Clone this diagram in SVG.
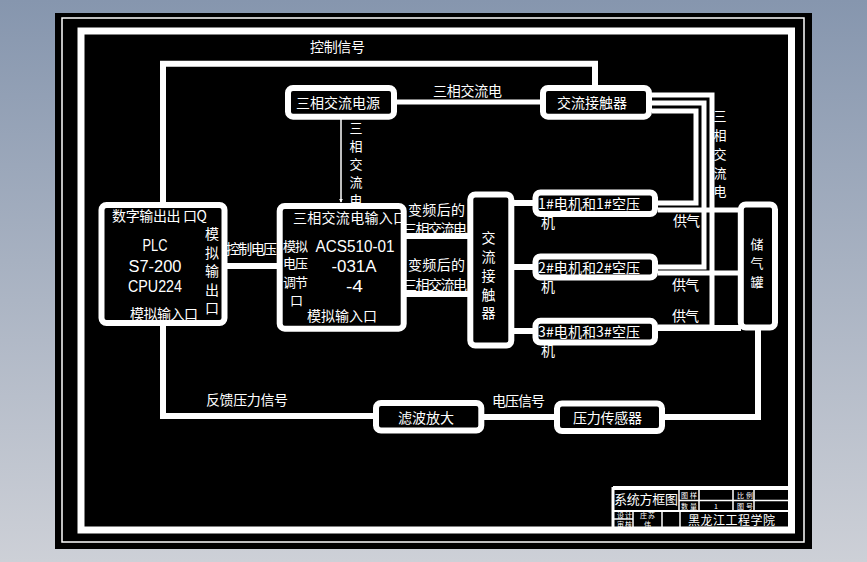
<svg xmlns="http://www.w3.org/2000/svg" width="867" height="562" viewBox="0 0 867 562">
<defs>
<linearGradient id="bg" x1="0" y1="0" x2="0" y2="1">
<stop offset="0" stop-color="#8696ae"/>
<stop offset="1" stop-color="#cdd0d7"/>
</linearGradient>
<marker id="arr" viewBox="0 0 6 6" refX="5" refY="3" markerWidth="4" markerHeight="4" orient="auto" markerUnits="userSpaceOnUse">
<path d="M0,0 L6,3 L0,6 Z" fill="#fff"/>
</marker>
<style>
.box{fill:#000;stroke:#fff;stroke-width:6}
.ln{fill:none;stroke:#fff;stroke-width:6}
.ln5{fill:none;stroke:#fff;stroke-width:5}
.thin{fill:none;stroke:#fff;stroke-width:1.5}
.tb{fill:none;stroke:#fff}
.t{font-family:"Noto Sans CJK SC","Liberation Sans",sans-serif;font-size:14px;fill:#fff;dominant-baseline:central}
.v{font-size:13px}
.m{text-anchor:middle}
.lat{font-family:"Liberation Sans","Noto Sans CJK SC",sans-serif;font-size:16px}
.s{font-size:7px}
</style>
</defs>
<rect width="867" height="562" fill="url(#bg)"/>
<rect x="55" y="13" width="757" height="536" fill="#000"/>
<rect x="62" y="18" width="742" height="524" fill="none" stroke="#fff" stroke-width="1.5"/>
<rect x="81" y="31" width="710.5" height="499" fill="none" stroke="#fff" stroke-width="7"/>

<g id="connectors">
<path class="ln" d="M163,205 V63.7 H595 V85"/>
<path class="ln" d="M163,323 V416 H376"/>
<path class="ln" d="M484,417 H557"/>
<path class="ln" d="M664,417 H758 V330"/>
<path class="ln5" d="M397,102 H543"/>
<path class="thin" d="M341,119 V202" marker-end="url(#arr)"/>
<path class="ln" d="M227,266 H279"/>
<path class="ln" d="M404,236 H470"/>
<path class="ln" d="M404,294 H470"/>
<path class="ln" d="M514,203 H535"/>
<path class="ln" d="M514,267 H535"/>
<path class="ln" d="M514,331 H535"/>
<path class="ln5" d="M652,111 H696 V203 H658"/>
<path class="ln5" d="M652,103 H704 V267 H658"/>
<path class="ln5" d="M652,95 H712 V327 H658"/>
<path class="ln5" d="M658,210 H741"/>
<path class="ln5" d="M658,273 H741"/>
<path class="ln" d="M658,328 H741"/>
</g>

<g id="labels">
<text class="t" x="310" y="46" textLength="55">控制信号</text>
<text class="t" x="433" y="90" textLength="69">三相交流电</text>
<text class="t v m" x="356" y="127">三</text>
<text class="t v m" x="356" y="145">相</text>
<text class="t v m" x="356" y="163">交</text>
<text class="t v m" x="356" y="181">流</text>
<text class="t v m" x="356" y="199">电</text>
<text class="t v m" x="720" y="115">三</text>
<text class="t v m" x="720" y="134">相</text>
<text class="t v m" x="720" y="153">交</text>
<text class="t v m" x="720" y="172">流</text>
<text class="t v m" x="720" y="190.5">电</text>
<text class="t" x="226" y="248" textLength="51">控制电压</text>
<text class="t" x="408" y="209" textLength="57">变频后的</text>
<text class="t" x="403" y="227.5" textLength="64">三相交流电</text>
<text class="t" x="408" y="263.5" textLength="57">变频后的</text>
<text class="t" x="403" y="283.5" textLength="64">三相交流电</text>
<text class="t" x="673" y="219.5" textLength="27">供气</text>
<text class="t" x="672" y="283.5" textLength="27">供气</text>
<text class="t" x="672" y="315" textLength="27">供气</text>
<text class="t" x="206" y="398.5" textLength="82">反馈压力信号</text>
<text class="t" x="492" y="400" textLength="53">电压信号</text>
</g>

<g id="power">
<rect class="box" x="288" y="88" width="106" height="28.7" rx="5"/>
<text class="t" x="296" y="102.3" textLength="84">三相交流电源</text>
</g>
<g id="contactor-top">
<rect class="box" x="543" y="88" width="106" height="28.7" rx="5"/>
<text class="t" x="557" y="102.3" textLength="70">交流接触器</text>
</g>
<g id="plc">
<rect class="box" x="101.5" y="205" width="123" height="118" rx="5"/>
<text class="t" x="112" y="215" textLength="95">数字输出出 口Q</text>
<text class="t lat m" x="155" y="245" textLength="25" lengthAdjust="spacingAndGlyphs">PLC</text>
<text class="t lat m" x="155" y="266.5" textLength="53" lengthAdjust="spacingAndGlyphs">S7-200</text>
<text class="t lat m" x="155" y="286.5" textLength="54" lengthAdjust="spacingAndGlyphs">CPU224</text>
<text class="t" x="130" y="313" textLength="68">模拟输入口</text>
<text class="t m" x="212" y="233">模</text>
<text class="t m" x="212" y="251.5">拟</text>
<text class="t m" x="212" y="270">输</text>
<text class="t m" x="212" y="288.5">出</text>
<text class="t m" x="212" y="307">口</text>
</g>
<g id="acs">
<rect class="box" x="279.7" y="206" width="124" height="122.7" rx="5"/>
<text class="t" x="293" y="216.7" textLength="114">三相交流电输入口</text>
<text class="t lat m" x="355" y="246.7" textLength="79" lengthAdjust="spacingAndGlyphs">ACS510-01</text>
<text class="t lat m" x="354" y="266.7" textLength="45" lengthAdjust="spacingAndGlyphs">-031A</text>
<text class="t lat m" x="354.5" y="286.7" textLength="17" lengthAdjust="spacingAndGlyphs">-4</text>
<text class="t v" x="283" y="245" textLength="25">模拟</text>
<text class="t v" x="283" y="262.5" textLength="25">电压</text>
<text class="t v" x="283" y="281" textLength="25">调节</text>
<text class="t v m" x="296.5" y="299">口</text>
<text class="t" x="307" y="314.5" textLength="70">模拟输入口</text>
</g>
<g id="contactor">
<rect class="box" x="470.3" y="194.5" width="41" height="151" rx="5"/>
<text class="t m" x="488.5" y="237">交</text>
<text class="t m" x="488.5" y="256">流</text>
<text class="t m" x="488.5" y="275">接</text>
<text class="t m" x="488.5" y="293.5">触</text>
<text class="t m" x="488.5" y="312">器</text>
</g>
<g id="motor1">
<rect class="box" x="535.5" y="192.5" width="119.5" height="21.5" rx="5"/>
<text class="t" x="538" y="203" textLength="102">1#电机和1#空压</text>
<text class="t" x="541" y="222">机</text>
</g>
<g id="motor2">
<rect class="box" x="535.5" y="256.5" width="119.5" height="21" rx="5"/>
<text class="t" x="538" y="266.5" textLength="102">2#电机和2#空压</text>
<text class="t" x="541" y="285.5">机</text>
</g>
<g id="motor3">
<rect class="box" x="535.5" y="320.8" width="119.5" height="21.7" rx="5"/>
<text class="t" x="538" y="330.5" textLength="102">3#电机和3#空压</text>
<text class="t" x="541" y="350">机</text>
</g>
<g id="tank">
<rect class="box" x="740.8" y="204.5" width="34.2" height="123" rx="5"/>
<text class="t v m" x="757" y="243.5">储</text>
<text class="t v m" x="757" y="262.5">气</text>
<text class="t v m" x="757" y="281">罐</text>
</g>
<g id="filter">
<rect class="box" x="376" y="403" width="105.3" height="27.5" rx="5"/>
<text class="t" x="398" y="416.7" textLength="56">滤波放大</text>
</g>
<g id="sensor">
<rect class="box" x="557" y="403.5" width="105" height="27.5" rx="5"/>
<text class="t" x="573" y="417.3" textLength="69">压力传感器</text>
</g>

<g id="titleblock">
<path class="tb" stroke-width="4" d="M613,488 H788"/>
<path class="tb" stroke-width="3" d="M613,487 V528"/>
<path class="tb" stroke-width="2" d="M613,511 H788"/>
<path class="tb" stroke-width="1.5" d="M679,488 V511 M699,488 V511 M733,488 V511 M754,488 V511 M679,500.5 H788 M633,511 V528 M662,511 V528 M680,511 V528 M613,519 H633"/>
<text class="t" x="614" y="498" style="font-size:13px" textLength="64">系统方框图</text>
<text class="t s" x="681" y="494.5" textLength="16">图样</text>
<text class="t s" x="681" y="505.5" textLength="16">数量</text>
<text class="t s" x="714" y="505.5">1</text>
<text class="t s" x="737" y="494.5" textLength="16">比例</text>
<text class="t s" x="737" y="505.5" textLength="16">图号</text>
<text class="t s" x="617" y="515" textLength="15">设计</text>
<text class="t s" x="617" y="523.5" textLength="15">审核</text>
<text class="t s" x="640" y="515" textLength="15">庄苏</text>
<text class="t s" x="644" y="523.5">伟</text>
<text class="t" x="688" y="519.5" style="font-size:12px" textLength="87">黑龙江工程学院</text>
</g>
</svg>
